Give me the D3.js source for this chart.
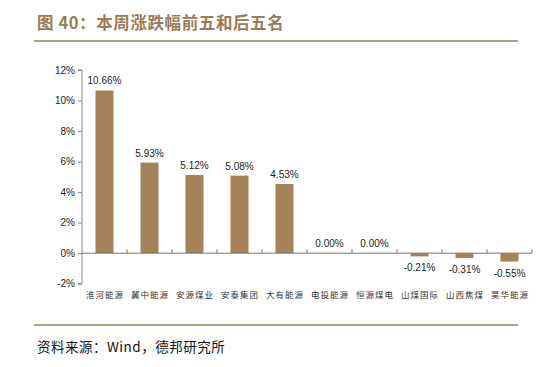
<!DOCTYPE html>
<html>
<head>
<meta charset="utf-8">
<script src="https://cdn.jsdelivr.net/npm/d3@7"></script>
<style>
  body { margin: 0; background: #fff; }
  svg { display: block; }
</style>
</head>
<body>
<div id="chart"></div>
<script>
// chart data
const categories = ["淮河能源", "冀中能源", "安源煤业", "安泰集团", "大有能源", "电投能源", "恒源煤电", "山煤国际", "山西焦煤", "昊华能源"]
const values = [10.66, 5.93, 5.12, 5.08, 4.53, 0.00, 0.00, -0.21, -0.31, -0.55]
const yTicks = [-2, 0, 2, 4, 6, 8, 10, 12]

const W = 552, H = 367
const brown = "#a5825a"
const svg = d3.select("#chart").append("svg")
    .attr("width", W)
    .attr("height", H)

// title and rules
svg.append("text")
    .attr("x", 37).attr("y", 29)
    .style("font-family", "'Noto Sans CJK SC', sans-serif")
    .style("font-size", "16.5px")
    .style("letter-spacing", "0.6px")
    .style("font-weight", "bold")
    .style("fill", "#9c7a55")
    .text("图 40：本周涨跌幅前五和后五名")
svg.append("line")
    .attr("x1", 34).attr("x2", 518).attr("y1", 41).attr("y2", 41)
    .style("stroke", "#9e7b55").style("stroke-width", 1.5)
svg.append("line")
    .attr("x1", 34).attr("x2", 518).attr("y1", 325).attr("y2", 325)
    .style("stroke", "#9e7b55").style("stroke-width", 1.5)
svg.append("text")
    .attr("x", 37).attr("y", 352)
    .style("font-family", "'Noto Sans CJK SC', sans-serif")
    .style("font-size", "13.5px")
    .style("letter-spacing", "0.5px")
    .style("fill", "#111")
    .text("资料来源：Wind，德邦研究所")

// scales
const x = d3.scaleBand()
    .domain(categories)
    .range([82, 532])
    .paddingInner(0.6)
    .paddingOuter(0.3)
const band = d3.scaleBand().domain(categories).range([82, 532])
const y = d3.scaleLinear()
    .domain([-2, 12])
    .range([283.7, 70])

// bars
svg.selectAll(".bar")
    .data(values)
    .enter().append("rect")
    .attr("class", "bar")
    .attr("x", (d, i) => x(categories[i]))
    .attr("width", x.bandwidth())
    .attr("y", d => y(Math.max(0, d)))
    .attr("height", d => Math.abs(y(d) - y(0)))
    .style("fill", brown)

// y axis
const yAxis = d3.axisLeft(y)
    .tickValues(yTicks)
    .tickFormat(d => d + "%")
    .tickSize(4)
    .tickPadding(3)
const gy = svg.append("g")
    .attr("transform", "translate(82,0)")
    .call(yAxis)
gy.select(".domain").attr("d", "M-4," + y(-2) + "H0V" + y(12) + "H-4")
gy.selectAll("path, line").style("stroke", "#888")
gy.selectAll("text")
    .style("font-family", "Arial, 'Liberation Sans', sans-serif")
    .style("font-size", "10px")
    .style("fill", "#222")

// x axis at zero, ticks between bands
const gx = svg.append("g")
gx.append("line")
    .attr("x1", 82).attr("x2", 532)
    .attr("y1", y(0)).attr("y2", y(0))
    .style("stroke", "#777")
gx.selectAll(".xtick")
    .data(categories.slice(1))
    .enter().append("line")
    .attr("class", "xtick")
    .attr("x1", d => band(d)).attr("x2", d => band(d))
    .attr("y1", y(0)).attr("y2", y(0) - 4)
    .style("stroke", "#777")
gx.append("line")
    .attr("x1", 532).attr("x2", 532)
    .attr("y1", y(0)).attr("y2", y(0) - 4)
    .style("stroke", "#777")

// category labels
svg.selectAll(".cat")
    .data(categories)
    .enter().append("text")
    .attr("class", "cat")
    .attr("x", d => band(d) + band.bandwidth() / 2 + 0.5)
    .attr("y", 298)
    .attr("text-anchor", "middle")
    .style("font-family", "'Noto Sans CJK SC', sans-serif")
    .style("font-size", "8.5px")
    .style("letter-spacing", "1px")
    .style("fill", "#333")
    .text(d => d)

// value labels
svg.selectAll(".label")
    .data(values)
    .enter().append("text")
    .attr("class", "label")
    .attr("x", (d, i) => band(categories[i]) + band.bandwidth() / 2)
    .attr("y", d => d < 0 ? y(d) + 15 : y(d) - 6)
    .attr("text-anchor", "middle")
    .style("font-family", "Arial, 'Liberation Sans', sans-serif")
    .style("font-size", "10px")
    .style("fill", "#222")
    .text(d => d.toFixed(2) + "%")
</script>
</body>
</html>
